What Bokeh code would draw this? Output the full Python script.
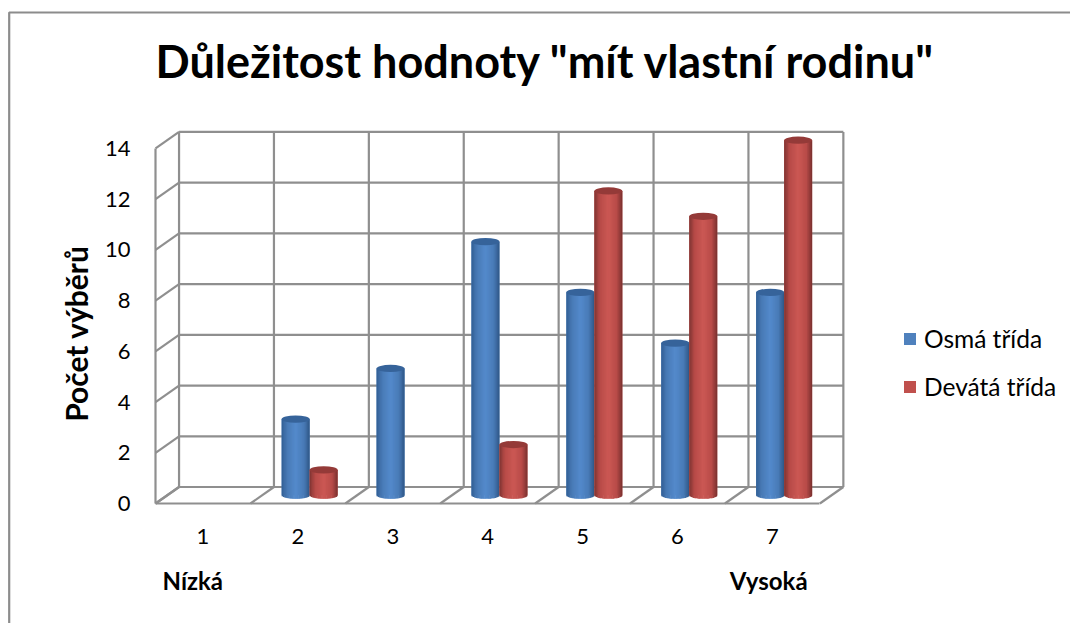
import math
from bokeh.plotting import figure
from bokeh.models import BoxAnnotation, FixedTicker, Label, Legend, LegendItem, Range1d
from bokeh.embed import file_html
from bokeh.resources import INLINE

TITLE = 'Důležitost hodnoty "mít vlastní rodinu"'
Y_TITLE = "Počet výběrů"
CATEGORIES = [1, 2, 3, 4, 5, 6, 7]
OSMA = [0, 3, 5, 10, 8, 6, 8]
DEVATA = [0, 1, 0, 2, 12, 11, 14]
Y_TICKS = [0, 2, 4, 6, 8, 10, 12, 14]
SERIES_NAMES = ["Osmá třída", "Devátá třída"]
LOW_LABEL = "Nízká"
HIGH_LABEL = "Vysoká"

GRID = "#8f8f8f"
BLUE = "#4f81bd"
RED = "#c0504d"
BLUE_CAP = "#36639a"
RED_CAP = "#943a38"
BLUE_SHADE = [(-1, (50, 95, 148)), (-0.6, (72, 122, 182)), (0, (84, 138, 204)), (0.6, (72, 122, 182)), (1, (46, 86, 134))]
RED_SHADE = [(-1, (128, 52, 50)), (-0.6, (184, 75, 72)), (0, (204, 88, 84)), (0.6, (184, 75, 72)), (1, (120, 48, 46))]

W, H = 1070, 623
UX = 94.9
UY = 25.36
ORIGIN_X = 202.5   # pixel of category 1 on the front edge
ORIGIN_Y = 503     # pixel of value 0 on the front edge
DX = 23.5 / UX
DY = 16.5 / UY
BAR_W = 28 / UX
NSTRIP = 22
CAP = 3.6 / UY

x0 = 1 - ORIGIN_X / UX
y0 = -(H - ORIGIN_Y) / UY
p = figure(width=W, height=H, output_backend="svg", toolbar_location=None,
           x_range=Range1d(x0, x0 + W / UX),
           y_range=Range1d(y0, y0 + H / UY),
           min_border=0,
           outline_line_color=None, background_fill_color="white", border_fill_color="white")

p.xgrid.visible = False
p.ygrid.visible = False

left_edge, right_edge = 0.5, 7.5
xs0, ys0, xs1, ys1 = [], [], [], []
for v in Y_TICKS:
    xs0 += [left_edge + DX, left_edge]
    ys0 += [v + DY, v]
    xs1 += [right_edge + DX, left_edge + DX]
    ys1 += [v + DY, v + DY]
for i in range(len(CATEGORIES) + 1):
    c = left_edge + i
    xs0 += [c + DX, c]
    ys0 += [DY, 0]
    xs1 += [c + DX, c + DX]
    ys1 += [Y_TICKS[-1] + DY, DY]
p.segment(xs0, ys0, xs1, ys1, line_color=GRID, line_width=2.2)


def shade(stops, t):
    for (t0, c0), (t1, c1) in zip(stops, stops[1:]):
        if t <= t1:
            f = (t - t0) / (t1 - t0)
            return "#%02x%02x%02x" % tuple(round(a + (b - a) * f) for a, b in zip(c0, c1))
    return "#%02x%02x%02x" % stops[-1][1]


def cylinders(values, shift, base_color, stops, cap_color):
    base = DY / 2
    centers = [cat + DX / 2 + shift for cat in CATEGORIES]
    # solid body carrying the series colour (also the legend's swatch)
    body = p.vbar(x=centers, bottom=[base] * len(values), top=[base + v for v in values],
                  width=BAR_W, fill_color=base_color, line_color=None)
    lefts, rights, tops, bottoms, colors, cap_x, cap_y = [], [], [], [], [], [], []
    for cx, val in zip(centers, values):
        if val == 0:
            continue
        for k in range(NSTRIP):
            a = -1 + 2 * k / NSTRIP
            b = -1 + 2 * (k + 1) / NSTRIP
            mid = (a + b) / 2
            lefts.append(cx + a * BAR_W / 2)
            rights.append(cx + (b if k == NSTRIP - 1 else b + 0.04) * BAR_W / 2)
            tops.append(base + val)
            bottoms.append(base - CAP * math.sqrt(max(0, 1 - mid * mid)))
            colors.append(shade(stops, mid))
        cap_x.append(cx)
        cap_y.append(base + val)
    p.quad(left=lefts, right=rights, top=tops, bottom=bottoms, fill_color=colors, line_color=None)
    p.ellipse(x=cap_x, y=cap_y, width=BAR_W, height=2 * CAP, fill_color=cap_color, line_color=None)
    return body


r1 = cylinders(OSMA, -BAR_W / 2, BLUE, BLUE_SHADE, BLUE_CAP)
r2 = cylinders(DEVATA, BAR_W / 2, RED, RED_SHADE, RED_CAP)

for ax, ticks in ((p.xaxis[0], CATEGORIES), (p.yaxis[0], Y_TICKS)):
    ax.ticker = FixedTicker(ticks=ticks)
    ax.major_tick_line_color = None
    ax.minor_tick_line_color = None
    ax.axis_line_color = GRID
    ax.axis_line_width = 2.2
    ax.major_label_text_font = "Lato"
    ax.major_label_text_font_size = "22px"
    ax.major_label_text_color = "#000000"
p.xaxis[0].bounds = (left_edge, right_edge)
p.yaxis[0].bounds = (0, 14)
p.xaxis[0].fixed_location = 0
p.yaxis[0].fixed_location = left_edge
p.xaxis[0].major_label_standoff = 19
p.yaxis[0].major_label_standoff = 19

for txt, x, y, angle, align, size in (
    (TITLE, 0.50, 17.45, 0, "left", "45px"),
    (Y_TITLE, -0.34, 6.7, math.pi / 2, "center", "30px"),
    (LOW_LABEL, 0.574, -3.04, 0, "left", "24px"),
    (HIGH_LABEL, 6.55, -3.04, 0, "left", "24px"),
):
    p.add_layout(Label(x=x, y=y, text=txt, angle=angle, text_align=align, text_baseline="middle",
                       text_font="Lato", text_font_style="bold",
                       text_font_size=size, text_color="#000000"))

legend = Legend(items=[LegendItem(label=SERIES_NAMES[0], renderers=[r1]),
                       LegendItem(label=SERIES_NAMES[1], renderers=[r2])],
                location=(902, 222), orientation="vertical", margin=0, padding=0, spacing=19,
                glyph_width=15, glyph_height=15, label_standoff=7, label_height=26,
                label_text_font="Lato", label_text_font_size="24.5px", label_text_color="#000000",
                border_line_color=None, background_fill_alpha=0)
p.add_layout(legend, "center")

p.add_layout(BoxAnnotation(left=8.7, right=1200, top=12, bottom=800,
                           left_units="canvas", right_units="canvas", top_units="canvas", bottom_units="canvas",
                           fill_alpha=0, line_color="#8c8c8c", line_alpha=1, line_width=2.2))

open("out.html", "w").write(file_html(p, INLINE))
